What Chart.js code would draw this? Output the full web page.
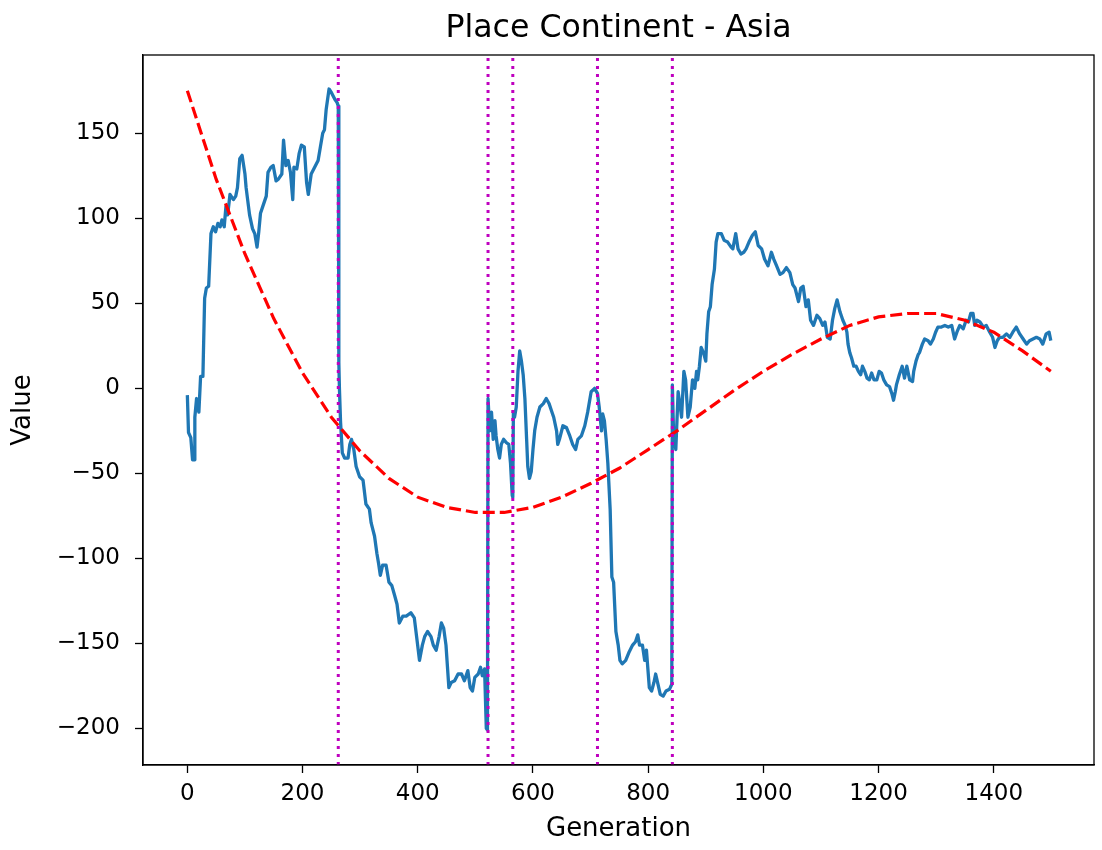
<!DOCTYPE html>
<html><head><meta charset="utf-8">
<script src="https://cdn.jsdelivr.net/npm/chart.js@4.4.1/dist/chart.umd.min.js"></script>
<style>html,body{margin:0;padding:0;background:#fff}canvas{display:block}</style>
</head><body>
<canvas id="c" width="1102" height="850"></canvas>
<script>
const TITLE = 'Place Continent - Asia';
const X_LABEL = 'Generation';
const Y_LABEL = 'Value';
const xTicks = [0, 200, 400, 600, 800, 1000, 1200, 1400];
const yTicks = [-200, -150, -100, -50, 0, 50, 100, 150];
const xLimits = [-77, 1574];
const yLimits = [-221.5, 196];
const changeGens = [262, 522, 565, 712, 842];

const blueGen = [0,2,6,9,12,13,16,20,23,27,30,33,37,41,45,49,53,57,60,64,67,70,74,80,84,87,91,95,100,102,108,113,117,121,124,127,131,137,140,145,149,154,158,164,167,171,175,179,183,185,190,194,198,203,
207,210,215,221,227,231,235,238,241,246,250,256,260,262,263,264,266,269,273,279,282,285,289,293,299,305,310,316,319,325,329,332,335,339,345,350,355,360,364,368,374,380,388,394,398,403,408,412,417,423,427,432,437,441,445,449,454,458,464,470,
476,481,487,491,495,499,505,509,512,516,519,521,522,525,528,531,534,536,539,542,545,549,554,558,561,564,565,566,568,571,574,577,580,583,586,589,591,594,597,600,603,607,612,618,623,628,632,636,641,643,646,652,658,664,669,674,678,684,690,695,701,707,712,715,719,721,724,727,
730,734,737,740,744,748,751,755,761,767,773,778,782,785,790,794,797,802,806,810,813,817,821,826,831,837,841,842,844,848,852,855,858,862,865,869,873,877,881,884,886,889,892,896,900,902,905,908,911,915,918,921,927,932,938,944,947,952,956,961,966,970,975,981,986,991,997,
1002,1008,1014,1018,1023,1029,1034,1040,1046,1051,1055,1061,1065,1069,1074,1078,1082,1087,1093,1098,1103,1107,1111,1116,1120,1124,1128,1133,1138,1142,1145,1147,1150,1153,1157,1161,1165,1169,1172,1176,1180,1184,1188,1192,1197,
1201,1205,1209,1214,1219,1223,1226,1229,1231,1236,1241,1245,1249,1254,1259,1261,1265,1269,1271,1276,1280,1286,1290,1295,1299,1303,1309,1315,1321,1327,1332,1336,1341,1347,1352,1356,1360,1364,1367,1371,1376,1382,1387,1393,1398,
1402,1406,1410,1416,1422,1428,1433,1439,1445,1451,1457,1462,1468,1474,1480,1485,1491,1496,1499];
const blueVal = [-4,-26,-29,-42,-42,-17,-6,-14,7,7,53,59,60,91,95,92,97,95,99,95,107,102,114,111,113,118,135,137,126,118,102,94,91,83,92,103,107,113,127,130,131,122,123,126,146,131,134,127,111,130,129,138,143,142,
121,114,126,130,134,142,150,152,164,176,174,170,168,166,15,0,-20,-38,-41,-41,-33,-30,-36,-46,-52,-54,-68,-71,-79,-87,-97,-103,-110,-104,-104,-114,-116,-122,-127,-138,-134,-134,-132,-135,-146,-160,-151,-146,-143,-146,-151,-154,-146,-138,-141,-151,-176,-173,-172,-168,
-168,-172,-166,-176,-178,-170,-168,-164,-169,-165,-200,-201,-6,-25,-14,-30,-19,-28,-36,-41,-33,-30,-32,-33,-44,-63,-64,-14,-17,-11,10,22,16,8,-6,-30,-46,-53,-49,-36,-25,-17,-11,-9,-6,-9,-13,-17,-25,-33,-30,-22,-23,-28,-33,-36,-30,-28,-22,-14,-2,0,-3,-11,-25,-15,-19,-30,
-44,-71,-111,-114,-143,-151,-160,-162,-160,-155,-151,-149,-145,-151,-151,-160,-154,-176,-178,-173,-168,-174,-180,-181,-178,-177,-174,2,-25,-36,-2,-9,-17,10,5,-17,-11,5,0,10,5,13,24,21,16,32,45,48,61,70,86,91,91,87,86,83,82,91,82,79,80,82,86,90,92,84,82,
76,72,80,76,72,67,68,71,68,61,59,51,59,60,48,52,40,37,43,41,37,39,30,29,40,47,52,45,40,37,33,26,21,18,13,13,10,8,13,10,6,5,9,5,5,
10,9,5,2,1,-3,-7,-2,2,8,13,6,13,5,4,10,16,20,21,26,29,28,26,29,33,36,36,37,36,37,29,33,37,35,40,39,44,44,37,40,39,36,37,33,30,
24,28,30,30,32,30,33,36,32,29,26,28,29,30,29,26,32,33,28];

const redGen = [0,50,100,150,200,250,300,350,400,450,500,550,600,650,700,750,800,850,900,950,1000,1050,1100,1150,1200,1250,1300,1350,1400,1450,1499];
const redVal = [175,123,79,41,9,-17,-37,-53,-64,-70,-73,-73,-70,-64,-56,-47,-36,-25,-13,-1,10,20,29,37,42,44,44,40,33,22,10];

Chart.defaults.font.family = '"DejaVu Sans", sans-serif';
Chart.defaults.color = '#000';

const datasets = [];
changeGens.forEach(g => datasets.push({
  data: [{x: g, y: yLimits[0]}, {x: g, y: yLimits[1]}],
  borderColor: '#bf00bf', borderWidth: 3, borderDash: [3, 5], borderCapStyle: 'butt',
  pointRadius: 0, fill: false
}));
datasets.push({
  data: redGen.map((g, i) => ({x: g, y: redVal[i]})),
  borderColor: '#ff0000', borderWidth: 3.2, borderDash: [12, 5], pointRadius: 0, fill: false
});
datasets.push({
  data: blueGen.map((g, i) => ({x: g, y: blueVal[i]})),
  borderColor: '#1f77b4', borderWidth: 3.3, pointRadius: 0, fill: false, borderJoinStyle: 'round'
});

const framePlugin = {
  id: 'frame',
  afterDatasetsDraw(chart) {
    const {ctx, chartArea: a} = chart;
    ctx.save();
    ctx.strokeStyle = '#000'; ctx.lineWidth = 1.3;
    ctx.strokeRect(a.left, a.top, a.right - a.left, a.bottom - a.top);
    ctx.restore();
  },
  afterDraw(chart) {
    const {ctx, chartArea: a} = chart;
    ctx.save();
    ctx.font = '31.6px "DejaVu Sans"';
    ctx.fillStyle = '#000'; ctx.textAlign = 'center'; ctx.textBaseline = 'alphabetic';
    ctx.fillText(TITLE, (a.left + a.right) / 2, 37);
    ctx.restore();
  }
};

const tickFont = {family: '"DejaVu Sans"', size: 23};
const labelFont = {family: '"DejaVu Sans"', size: 26};

new Chart(document.getElementById('c'), {
  type: 'line',
  data: {datasets},
  plugins: [framePlugin],
  options: {
    responsive: false, animation: false,
    layout: {padding: {top: 55, right: 8, left: 0, bottom: 0}},
    plugins: {legend: {display: false}, tooltip: {enabled: false}, title: {display: false}},
    elements: {line: {tension: 0}},
    scales: {
      x: {
        type: 'linear', min: xLimits[0], max: xLimits[1],
        afterBuildTicks: s => { s.ticks = xTicks.map(v => ({value: v})); },
        ticks: {callback: v => String(v), font: tickFont, color: '#000', padding: 7, maxRotation: 0, autoSkip: false},
        grid: {drawOnChartArea: false, drawTicks: true, tickLength: 8, tickWidth: 1.3, tickColor: '#000'},
        border: {display: true, color: '#000', width: 1.3},
        title: {display: true, text: X_LABEL, font: labelFont, color: '#000', padding: {top: 0, bottom: 5}},
        afterFit: s => { s.height = 85; }
      },
      y: {
        type: 'linear', min: yLimits[0], max: yLimits[1],
        afterBuildTicks: s => { s.ticks = yTicks.map(v => ({value: v})); },
        ticks: {callback: v => String(v).replace('-', '\u2212'), font: tickFont, color: '#000', padding: 15, autoSkip: false},
        grid: {drawOnChartArea: false, drawTicks: true, tickLength: 8, tickWidth: 1.3, tickColor: '#000'},
        border: {display: true, color: '#000', width: 1.3},
        title: {display: true, text: Y_LABEL, font: labelFont, color: '#000', padding: {top: 8, bottom: 0}},
        afterFit: s => { s.width = 143; }
      }
    }
  }
});
</script>
</body></html>
